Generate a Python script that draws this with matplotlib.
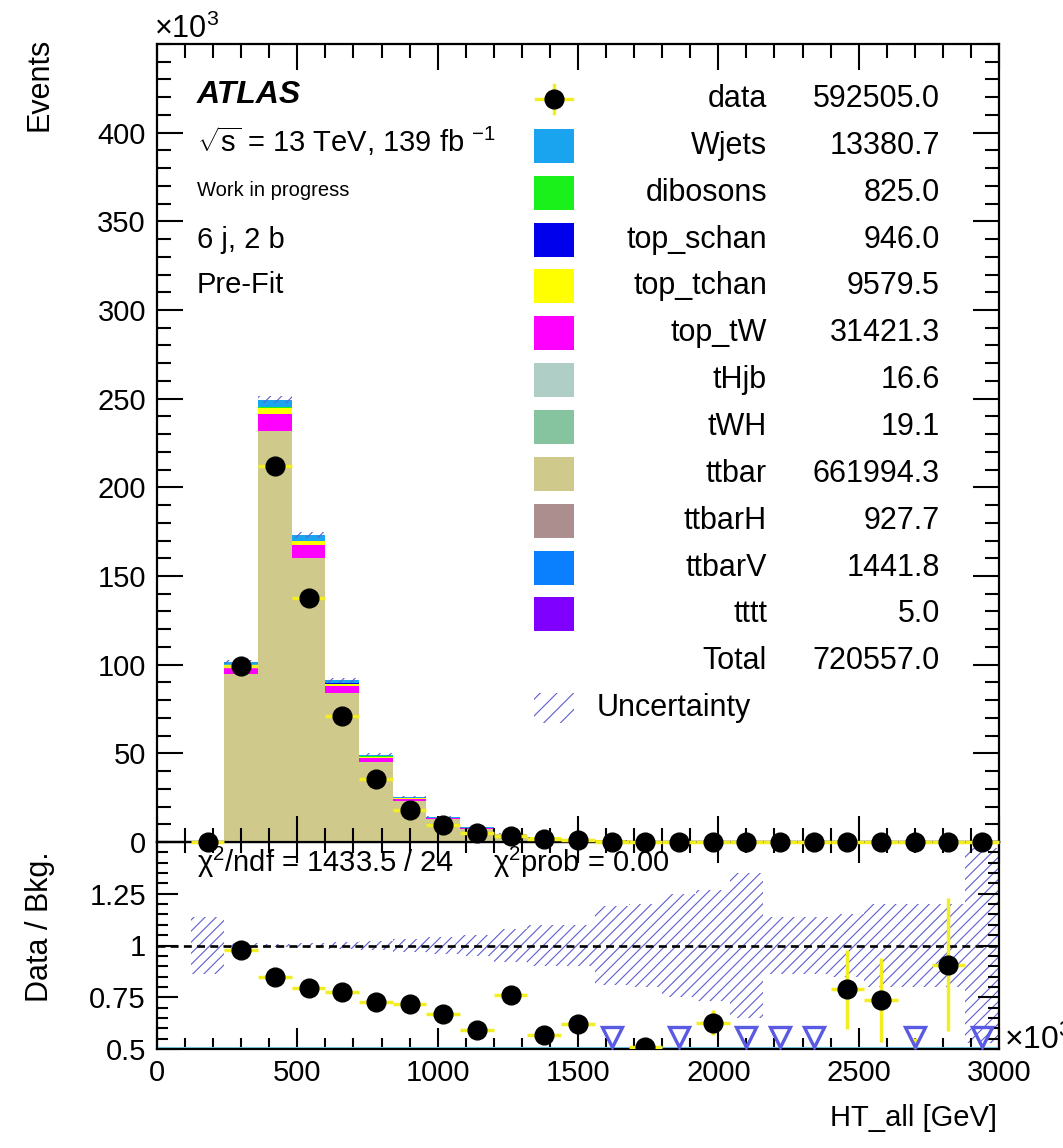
import numpy as np
import matplotlib
matplotlib.use('Agg')
import matplotlib.pyplot as plt
from matplotlib.patches import Rectangle
from matplotlib.lines import Line2D

plt.rcParams['font.family'] = ['Liberation Sans', 'DejaVu Sans']
plt.rcParams['mathtext.fontset'] = 'custom'
plt.rcParams['mathtext.rm'] = 'Liberation Sans'
plt.rcParams['mathtext.it'] = 'Liberation Sans:italic'
plt.rcParams['mathtext.bf'] = 'Liberation Sans:bold'
plt.rcParams['hatch.linewidth'] = 0.8

# ---------------- data ----------------
bin_edges = [120, 240, 360, 480, 600, 720, 840, 960, 1080, 1200, 1320, 1440, 1560,
             1680, 1800, 1920, 2040, 2160, 2280, 2400, 2520, 2640, 2760, 2880, 3000]

data_counts = [0, 99500, 212000, 137500, 71000, 35800, 18200, 9420, 4900, 3560, 1500,
               935, 265, 259, 88, 107, 31, 19, 11, 17, 13, 4, 8, 1]

ttbar = [40, 94300, 231000, 159500, 83800, 45100, 23100, 12800, 7550, 4250, 2380, 1360,
         790, 455, 262, 152, 91, 55, 33, 19, 15.5, 9.5, 7.8, 5.2]
top_tW = [8, 3900, 9900, 7200, 3900, 2150, 1130, 640, 390, 225, 130, 76, 45, 27, 16,
          9.5, 5.8, 3.6, 2.2, 1.3, 1.1, 0.7, 0.5, 0.35]
Wjets = [6, 1700, 4300, 3100, 1750, 980, 520, 300, 180, 105, 62, 36, 22, 13, 7.5, 4.5,
         2.8, 1.7, 1.0, 0.6, 0.5, 0.3, 0.25, 0.15]
top_tchan = [4, 1250, 3100, 2200, 1220, 660, 340, 190, 110, 63, 36, 21, 12, 7, 4, 2.4,
             1.4, 0.9, 0.5, 0.3, 0.25, 0.15, 0.12, 0.08]
ttbarV = [0.2, 130, 420, 360, 220, 130, 75, 44, 27, 16, 10, 6, 3.6, 2.2, 1.4, 0.9, 0.6,
          0.4, 0.25, 0.15, 0.12, 0.08, 0.06, 0.04]
top_schan = [0.5, 130, 320, 230, 125, 68, 35, 19, 10, 5.5, 3, 1.7, 1, 0.6, 0.35, 0.2,
             0.12, 0.07, 0.04, 0.03, 0.02, 0.01, 0.01, 0.01]
ttbarH = [0.1, 70, 250, 230, 150, 95, 55, 33, 20, 12, 7.5, 4.5, 2.7, 1.6, 1, 0.6, 0.4,
          0.25, 0.15, 0.1, 0.08, 0.05, 0.04, 0.03]
dibosons = [0.3, 90, 230, 200, 120, 75, 45, 28, 17, 10, 6, 3.6, 2.2, 1.3, 0.8, 0.5, 0.3,
            0.2, 0.12, 0.08, 0.06, 0.04, 0.03, 0.02]
tWH = [0, 1, 4, 4.5, 3.5, 2.3, 1.4, 0.8, 0.5, 0.3, 0.2, 0.1, 0.06, 0.04, 0.02, 0.01,
       0, 0, 0, 0, 0, 0, 0, 0]
tHjb = [0, 1, 3.5, 4, 3, 2, 1.2, 0.7, 0.4, 0.25, 0.15, 0.1, 0.05, 0.03, 0.02, 0.01,
        0, 0, 0, 0, 0, 0, 0, 0]
tttt = [0, 0, 0.3, 0.7, 1, 0.9, 0.7, 0.5, 0.35, 0.2, 0.13, 0.08, 0.05, 0.03, 0.02, 0.01,
        0, 0, 0, 0, 0, 0, 0, 0]

# relative systematic uncertainty per bin
rel_unc = [0.14, 0.01, 0.008, 0.01, 0.015, 0.02, 0.03, 0.04, 0.05, 0.08, 0.1, 0.1,
           0.19, 0.2, 0.25, 0.27, 0.35, 0.14, 0.14, 0.15, 0.2, 0.2, 0.2, 0.47]

legend_names = ['Wjets', 'dibosons', 'top_schan', 'top_tchan', 'top_tW', 'tHjb', 'tWH',
                'ttbar', 'ttbarH', 'ttbarV', 'tttt']
legend_yields = ['13380.7', '825.0', '946.0', '9579.5', '31421.3', '16.6', '19.1',
                 '661994.3', '927.7', '1441.8', '5.0']
data_yield = '592505.0'
total_yield = '720557.0'

colors = {'Wjets': '#1AA3EE', 'dibosons': '#1AF01A', 'top_schan': '#0000EC',
          'top_tchan': '#FFFF00', 'top_tW': '#FF00FF', 'tHjb': '#AFCEC5',
          'tWH': '#86C4A0', 'ttbar': '#CFC98C', 'ttbarH': '#AC8E8E',
          'ttbarV': '#0A80FF', 'tttt': '#7F00FF'}
samples = {'Wjets': Wjets, 'dibosons': dibosons, 'top_schan': top_schan,
           'top_tchan': top_tchan, 'top_tW': top_tW, 'tHjb': tHjb, 'tWH': tWH,
           'ttbar': ttbar, 'ttbarH': ttbarH, 'ttbarV': ttbarV, 'tttt': tttt}

# ---------------- layout ----------------
W, H = 1063, 1148
def fx(p): return p / W
def fy(p): return 1 - p / H

fig = plt.figure(figsize=(W / 100, H / 100), dpi=100)
X0, X1 = 157, 999
ax = fig.add_axes([fx(X0), fy(842), fx(X1) - fx(X0), fy(44) - fy(842)])
rax = fig.add_axes([fx(X0), fy(1049), fx(X1) - fx(X0), fy(842) - fy(1049)])
ax.set_zorder(rax.get_zorder() + 1)
ax.patch.set_alpha(0)

edges = np.array(bin_edges, dtype=float)
centers = 0.5 * (edges[:-1] + edges[1:])
halfw = 0.5 * (edges[1:] - edges[:-1])

# stack: bottom -> top is the reverse of the legend order
base = np.zeros(len(centers))
for name in legend_names[::-1]:
    vals = np.array(samples[name], dtype=float)
    top = base + vals
    ax.stairs(top / 1000, edges, baseline=base / 1000, fill=True,
              color=colors[name], lw=0)
    base = top
total = base

hatch_col = '#5E5ED0'
HATCH = '///'
unc = np.array(rel_unc)
ax.bar(edges[:-1], 2 * unc * total / 1000, bottom=total * (1 - unc) / 1000,
       width=np.diff(edges), align='edge', fill=False, hatch=HATCH,
       edgecolor=hatch_col, linewidth=0)

dat = np.array(data_counts, dtype=float)
yel = '#F2EE22'
ax.errorbar(centers, dat / 1000, xerr=halfw, yerr=np.sqrt(dat) / 1000, fmt='o',
            color='black', ms=13.5, ecolor=yel, elinewidth=2.5, capsize=0,
            clip_on=False, zorder=5)

ax.set_xlim(0, 3000)
ax.set_ylim(0, 450)
ax.set_xticks(np.arange(0, 3001, 500))
ax.set_xticks(np.arange(0, 3001, 100), minor=True)
ax.set_yticks(np.arange(0, 401, 50))
ax.set_yticks(np.arange(0, 451, 10), minor=True)
ax.tick_params(axis='x', labelbottom=False)
ax.tick_params(which='both', direction='in', top=True, right=True, width=1.5)
ax.tick_params(which='major', length=19)
ax.tick_params(which='minor', length=10)
ax.tick_params(axis='y', labelsize=21, pad=8)
for s in ax.spines.values():
    s.set_linewidth(1.6)

# ---------------- ratio ----------------
ratio = np.where(total > 0, dat / total, np.nan)
rerr = np.where(total > 0, np.sqrt(dat) / total, 0)
rax.bar(edges[:-1], 2 * unc, bottom=1 - unc, width=np.diff(edges), align='edge',
        fill=False, hatch=HATCH, edgecolor=hatch_col, linewidth=0)
rax.axhline(1.0, color='black', ls=(0, (3, 2)), lw=1.9, zorder=3)
rax.axhline(0.5, color='#7FD3F2', lw=3, zorder=2)

inside = (ratio >= 0.5) & (dat > 0)
below = (ratio < 0.5) & (dat > 0)
rax.errorbar(centers[inside], ratio[inside], xerr=halfw[inside], yerr=rerr[inside],
             fmt='o', color='black', ms=13.5, ecolor=yel, elinewidth=2.5, capsize=0,
             zorder=5)
rax.errorbar(centers[below], ratio[below], yerr=rerr[below], fmt='none',
             ecolor=yel, elinewidth=2.5, capsize=0, zorder=4)
rax.plot(centers[below], np.full(below.sum(), 0.559), 'v', ms=15, mfc='none',
         mec='#5A5AE4', mew=2.4, zorder=6)

rax.set_xlim(0, 3000)
rax.set_ylim(0.5, 1.5)
rax.set_xticks(np.arange(0, 3001, 500))
rax.set_xticks(np.arange(0, 3001, 100), minor=True)
rax.set_yticks([0.5, 0.75, 1.0, 1.25])
rax.set_yticklabels(['0.5', '0.75', '1', '1.25'])
rax.set_yticks(np.arange(0.5, 1.51, 0.05), minor=True)
rax.tick_params(which='both', direction='in', top=True, right=True, width=1.5)
rax.tick_params(axis='y', which='major', length=15)
rax.tick_params(axis='y', which='minor', length=8)
rax.tick_params(axis='x', which='major', length=15)
rax.tick_params(axis='x', which='minor', length=8)
rax.tick_params(labelsize=21)
rax.tick_params(axis='y', pad=8)
rax.tick_params(axis='x', pad=7)
for s in rax.spines.values():
    s.set_linewidth(1.6)

rax.text((197 - X0) / (X1 - X0), (1049 - 862) / 207, 'χ$^{2}$/ndf = 1433.5 / 24',
         transform=rax.transAxes, fontsize=21, va='center', ha='left', zorder=7)
rax.text((493 - X0) / (X1 - X0), (1049 - 862) / 207, 'χ$^{2}$prob = 0.00',
         transform=rax.transAxes, fontsize=21, va='center', ha='left', zorder=7)

# ---------------- labels ----------------
fig.text(fx(40), fy(38), 'Events', rotation=90, ha='center', va='top', fontsize=22)
fig.text(fx(40), fy(927), 'Data / Bkg.', rotation=90, ha='center', va='center', fontsize=22)
fig.text(fx(997), fy(1118), 'HT_all [GeV]', ha='right', va='center', fontsize=21)
fig.text(fx(154), fy(38), '×10$^{3}$', ha='left', va='baseline', fontsize=22)
fig.text(fx(1004), fy(1040), '×10$^{3}$', ha='left', va='center', fontsize=23)

fig.text(fx(197), fy(95), 'ATLAS', fontsize=23, fontweight='bold', fontstyle='italic',
         ha='left', va='center')
fig.text(fx(197), fy(141), r'$\sqrt{\mathrm{s}}$ = 13 TeV, 139 fb $^{-1}$', fontsize=21,
         ha='left', va='center')
fig.text(fx(197), fy(190), 'Work in progress', fontsize=14.5, ha='left', va='center')
fig.text(fx(197), fy(240), '6 j, 2 b', fontsize=21, ha='left', va='center')
fig.text(fx(197), fy(285), 'Pre-Fit', fontsize=21, ha='left', va='center')

# ---------------- legend ----------------
row_y = [99 + 46.85 * i for i in range(14)]
lab_x, val_x = 767, 940
box_x0, box_x1 = 534, 574
fig.add_artist(Line2D([fx(box_x0 + 2), fx(box_x1 - 2)], [fy(row_y[0]), fy(row_y[0])],
                      color=yel, lw=2.5, transform=fig.transFigure))
fig.add_artist(Line2D([fx(554), fx(554)], [fy(row_y[0] - 14), fy(row_y[0] + 14)],
                      color=yel, lw=2.5, transform=fig.transFigure))
fig.add_artist(Line2D([fx(554)], [fy(row_y[0])], marker='o', ms=13.5, color='black',
                      lw=0, transform=fig.transFigure))
fig.text(fx(lab_x), fy(row_y[0]), 'data', fontsize=22, ha='right', va='center')
fig.text(fx(val_x), fy(row_y[0]), data_yield, fontsize=22, ha='right', va='center')
for i, (name, yv) in enumerate(zip(legend_names, legend_yields)):
    yc = row_y[i + 1]
    fig.add_artist(Rectangle((fx(box_x0), fy(yc + 17)), fx(box_x1) - fx(box_x0),
                             fy(yc - 17) - fy(yc + 17), transform=fig.transFigure,
                             facecolor=colors[name], edgecolor='none'))
    fig.text(fx(lab_x), fy(yc), name, fontsize=22, ha='right', va='center')
    fig.text(fx(val_x), fy(yc), yv, fontsize=22, ha='right', va='center')
fig.text(fx(lab_x), fy(row_y[12]), 'Total', fontsize=22, ha='right', va='center')
fig.text(fx(val_x), fy(row_y[12]), total_yield, fontsize=22, ha='right', va='center')
yc = row_y[13]
fig.add_artist(Rectangle((fx(box_x0), fy(yc + 15)), fx(box_x1) - fx(box_x0),
                         fy(yc - 15) - fy(yc + 15), transform=fig.transFigure,
                         fill=False, hatch='//', edgecolor=hatch_col, linewidth=0))
fig.text(fx(597), fy(yc), 'Uncertainty', fontsize=22, ha='left', va='center')

fig.savefig('out.png', dpi=100)
